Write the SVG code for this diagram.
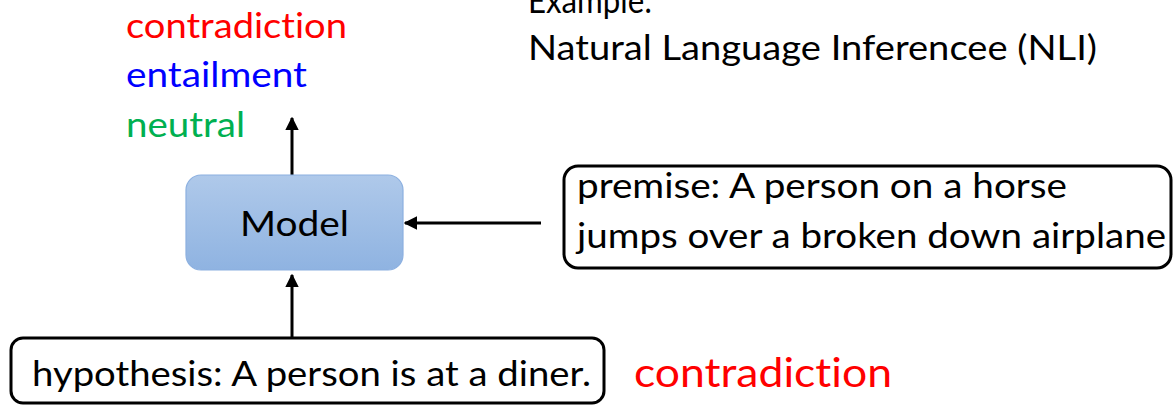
<svg xmlns="http://www.w3.org/2000/svg" width="1173" height="405" viewBox="0 0 1173 405">
  <style>
    text { font-family: Lato, "Open Sans", "Liberation Sans", sans-serif; font-variant-ligatures: none; }
    .lbl { font-size: 34px; }
    .body { font-size: 34px; fill: #000; }
    .box { fill: #fff; stroke: #000; stroke-width: 3; }
    .wire { stroke: #000; stroke-width: 3; fill: none; }
  </style>
  <defs>
    <linearGradient id="modelFill" x1="0" y1="0" x2="0" y2="1">
      <stop offset="0" stop-color="#afc9ea"/>
      <stop offset="1" stop-color="#8fb3e1"/>
    </linearGradient>
    <marker id="head" viewBox="0 0 10 10" refX="9" refY="5" markerWidth="4.6" markerHeight="4.6" orient="auto" markerUnits="strokeWidth">
      <path d="M0,0 L10,5 L0,10 Z" fill="#000"/>
    </marker>
  </defs>

  <!-- title -->
  <g id="title">
    <text class="body" x="528" y="13" textLength="124" lengthAdjust="spacingAndGlyphs">Example:</text>
    <text class="body" x="528" y="60" textLength="569" lengthAdjust="spacingAndGlyphs">Natural Language Inferencee (NLI)</text>
  </g>

  <!-- output classes -->
  <g id="classes">
    <text class="lbl" x="126" y="38" fill="#ff0000" textLength="221" lengthAdjust="spacingAndGlyphs">contradiction</text>
    <text class="lbl" x="126" y="87" fill="#0000ff" textLength="181" lengthAdjust="spacingAndGlyphs">entailment</text>
    <text class="lbl" x="126" y="137" fill="#00b050" textLength="119" lengthAdjust="spacingAndGlyphs">neutral</text>
  </g>

  <!-- connectors -->
  <g id="connectors">
    <line class="wire" x1="292" y1="175" x2="292" y2="118" marker-end="url(#head)"/>
    <line class="wire" x1="541" y1="223" x2="405" y2="223" marker-end="url(#head)"/>
    <line class="wire" x1="292" y1="338" x2="292" y2="275" marker-end="url(#head)"/>
  </g>

  <g id="model">
    <rect x="186" y="175" width="217" height="95" rx="15" ry="15" fill="url(#modelFill)" stroke="#8cb0e0" stroke-width="1.2"/>
    <text class="body" x="240" y="236" textLength="109" lengthAdjust="spacingAndGlyphs">Model</text>
  </g>

  <g id="premise">
    <rect class="box" x="564" y="166" width="607" height="102" rx="14" ry="14"/>
    <text class="body" x="577" y="198" textLength="490" lengthAdjust="spacingAndGlyphs">premise: A person on a horse</text>
    <text class="body" x="577" y="248" textLength="589" lengthAdjust="spacingAndGlyphs">jumps over a broken down airplane</text>
  </g>

  <g id="hypothesis">
    <rect class="box" x="11" y="338" width="593" height="65" rx="12" ry="12"/>
    <text class="body" x="32" y="386" textLength="559" lengthAdjust="spacingAndGlyphs">hypothesis: A person is at a diner.</text>
  </g>

  <g id="answer">
    <text x="634" y="387" fill="#ff0000" font-size="40" textLength="258" lengthAdjust="spacingAndGlyphs">contradiction</text>
  </g>
</svg>
